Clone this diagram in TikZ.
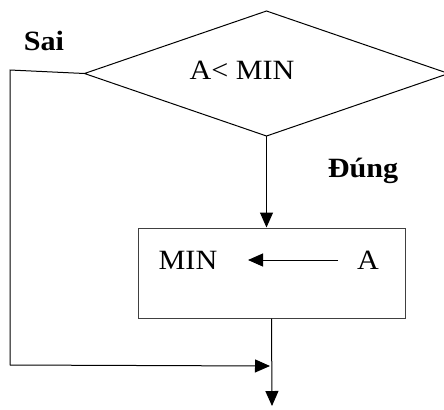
\documentclass[tikz,border=0pt]{standalone}
\usepackage{fontspec}
\setmainfont[FakeStretch=1.08]{Liberation Serif}
\usetikzlibrary{shapes.geometric,arrows.meta}
\tikzset{
  flow/.style={line width=1bp, -{Triangle[length=15bp,width=13bp]}},
  plain/.style={line width=1bp},
  txt/.style={font=\fontsize{28}{32}\selectfont, anchor=base, inner sep=0},
  btxt/.style={font=\fontsize{28}{32}\selectfont\bfseries, anchor=base, inner sep=0},
}
\begin{document}
\begin{tikzpicture}[x=1bp,y=-1bp]
\useasboundingbox (0,0) rectangle (444,409);
\node[diamond, draw, line width=1bp, minimum width=364bp, minimum height=125bp, aspect=2.91, inner sep=0, outer sep=0] (dec) at (266.5,73.5) {};
\node[txt] (cond) at (242,79) {A< MIN};
\node[draw, line width=1bp, draw=black!75, minimum width=267bp, minimum height=90bp, inner sep=0] (box) at (271.5,273) {};
\node[txt] (min) at (188,269) {MIN};
\node[txt] (a) at (368,269) {A};
\coordinate (af) at (338,260);
\coordinate (at) at (248,260);
\node[btxt] (sai) at (44,50) {Sai};
\node[btxt] (dung) at (363,177) {Đúng};
\coordinate (c1) at (10,70);
\coordinate (c2) at (10,365);
\coordinate (join) at (270,366);
\coordinate (end) at (272,406);
\draw[flow] (af) -- (at);
\draw[flow] (dec.south) -- (box.north -| dec.south);
\draw[plain] (dec.west) -- (c1) -- (c2);
\draw[flow] (c2) -- (join);
\draw[flow] (box.south) -- (end);
\end{tikzpicture}
\end{document}
